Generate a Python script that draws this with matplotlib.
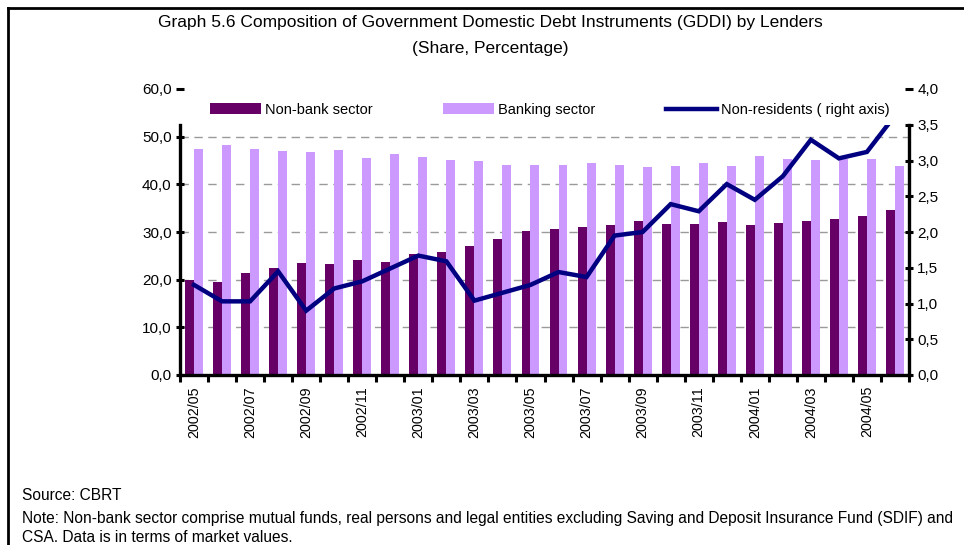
import matplotlib
matplotlib.use("Agg")
import matplotlib.pyplot as plt
from matplotlib import font_manager
from matplotlib.lines import Line2D
from matplotlib.patches import Rectangle
import numpy as np

months = ["2002/05", "2002/06", "2002/07", "2002/08", "2002/09", "2002/10", "2002/11", "2002/12",
          "2003/01", "2003/02", "2003/03", "2003/04", "2003/05", "2003/06", "2003/07", "2003/08",
          "2003/09", "2003/10", "2003/11", "2003/12", "2004/01", "2004/02", "2004/03", "2004/04",
          "2004/05", "2004/06"]
non_bank = [20.0, 19.6, 21.3, 22.5, 23.6, 23.2, 24.2, 23.8, 25.3, 25.9, 27.0, 28.5, 30.2,
            30.6, 31.0, 31.4, 32.3, 31.6, 31.6, 32.1, 31.4, 31.9, 32.3, 32.7, 33.3, 34.6]
banking = [47.5, 48.2, 47.5, 46.9, 46.7, 47.3, 45.6, 46.3, 45.8, 45.2, 45.0, 44.1, 44.1,
           44.1, 44.4, 44.1, 43.7, 43.9, 44.4, 43.9, 46.0, 45.4, 45.2, 45.4, 45.4, 43.9]
non_residents = [1.26, 1.03, 1.03, 1.45, 0.90, 1.21, 1.31, 1.49, 1.67, 1.59, 1.04, 1.15, 1.26,
                 1.44, 1.37, 1.95, 2.00, 2.39, 2.29, 2.67, 2.45, 2.78, 3.29, 3.03, 3.12, 3.63]
left_ticks = [0, 10, 20, 30, 40, 50, 60]
right_ticks = [0, 0.5, 1.0, 1.5, 2.0, 2.5, 3.0, 3.5, 4.0]

avail = {f.name for f in font_manager.fontManager.ttflist}
fam = "Liberation Sans Narrow" if "Liberation Sans Narrow" in avail else "Liberation Sans"
plt.rcParams["font.family"] = [fam, "DejaVu Sans"]

W, H = 964, 545
fig = plt.figure(figsize=(W / 100, H / 100), dpi=100)
ax = fig.add_axes([180 / W, 1 - 375 / H, (909 - 180) / W, (375 - 89) / H])
ax2 = ax.twinx()

x = np.arange(len(months))
bw = 0.32
dark = "#660066"
light = "#CC99FF"
navy = "#000080"

b1 = ax.bar(x - bw / 2, non_bank, width=bw, color=dark, zorder=2, label="Non-bank sector")
b2 = ax.bar(x + bw / 2, banking, width=bw, color=light, zorder=2, label="Banking sector")

ax.set_xlim(-0.5, len(months) - 0.5)
ax.set_ylim(0, 60)
ax2.set_ylim(0, 4)

for v in [10, 20, 30, 40, 50]:
    ax.axhline(v, color="#9a9a9a", lw=1.0, ls=(0, (6, 4)), zorder=1)

ln, = ax2.plot(x, non_residents, color=navy, lw=3.2, zorder=3, label="Non-residents ( right axis)",
               solid_joinstyle="miter")
clip = Rectangle((-0.5, 0), len(months), 3.5, transform=ax2.transData, facecolor="none", edgecolor="none")
ln.set_clip_path(clip)

fmt = lambda v: f"{v:.1f}".replace(".", ",")
ax.set_yticks(left_ticks)
ax.set_yticklabels([fmt(v) for v in left_ticks])
ax2.set_yticks(right_ticks)
ax2.set_yticklabels([fmt(v) for v in right_ticks])

ax.set_xticks(np.arange(-0.5, len(months), 1.0))
ax.set_xticklabels([])
ax.set_xticks(x[::2], minor=True)
ax.set_xticklabels(months[::2], minor=True, rotation=90, fontsize=10.3)
ax.tick_params(axis="x", which="major", direction="out", length=5, width=2.2)
ax.tick_params(axis="x", which="minor", length=0, pad=8)

ax.tick_params(axis="y", direction="inout", length=6, width=2.2, labelsize=11, pad=3)
ax2.tick_params(axis="y", direction="inout", length=6, width=2.2, labelsize=11, pad=3)

for a in (ax, ax2):
    a.spines["top"].set_visible(False)
    for s in ("left", "right", "bottom"):
        a.spines[s].set_linewidth(2.4)
ax.spines["left"].set_bounds(0, 52.5)
ax.spines["right"].set_visible(False)
ax2.spines["left"].set_visible(False)
ax2.spines["bottom"].set_visible(False)
ax2.spines["right"].set_bounds(0, 3.5)

leg = ax.legend([b1, b2, ln], ["Non-bank sector", "Banking sector", "Non-residents ( right axis)"],
                ncol=3, frameon=False, loc="center left",
                bbox_to_anchor=(210 / W, 1 - 110 / H), bbox_transform=fig.transFigure,
                fontsize=10.5, handlelength=3.5, handletextpad=0.3, columnspacing=4.8,
                borderpad=0, borderaxespad=0, handleheight=0.78)
leg.set_zorder(5)

fig.text(490 / W, 1 - 22 / H,
         "Graph 5.6 Composition of Government Domestic Debt Instruments (GDDI) by Lenders",
         ha="center", va="center", fontsize=12.5)
fig.text(490 / W, 1 - 48 / H, "(Share, Percentage)", ha="center", va="center", fontsize=12.5)

fig.text(22 / W, 1 - 496 / H, "Source: CBRT", ha="left", va="center", fontsize=11.2)
fig.text(22 / W, 1 - 519 / H,
         "Note: Non-bank sector comprise mutual funds, real persons and legal entities excluding Saving and Deposit Insurance Fund (SDIF) and",
         ha="left", va="center", fontsize=11.2)
fig.text(22 / W, 1 - 537 / H, "CSA. Data is in terms of market values.", ha="left", va="center", fontsize=11.2)

fig.add_artist(Line2D([8 / W, 1.0], [1 - 8 / H, 1 - 8 / H], transform=fig.transFigure, color="black", lw=2))
fig.add_artist(Line2D([8 / W, 8 / W], [1 - 8 / H, 0], transform=fig.transFigure, color="black", lw=2))

fig.savefig("out.png", dpi=100)
